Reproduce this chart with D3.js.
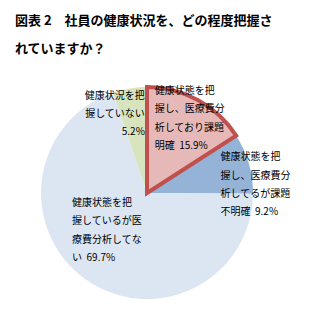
<!DOCTYPE html>
<html>
<head>
<meta charset="utf-8">
<script src="https://cdn.jsdelivr.net/npm/d3@7"></script>
<style>
  body { margin: 0; background: #fff; }
  text { font-family: "Noto Sans CJK JP", sans-serif; }
</style>
</head>
<body>
<div id="chart"></div>
<script>
// data
const titleLines = ["図表 2　社員の健康状況を、どの程度把握さ", "れていますか？"];
const categories = [
  "健康状態を把握し、医療費分析しており課題明確",
  "健康状態を把握し、医療費分析してるが課題不明確",
  "健康状態を把握しているが医療費分析してない",
  "健康状況を把握していない"
];
const values = [15.9, 9.2, 69.7, 5.2];
const labelLines = [
  ["健康状態を把", "握し、医療費分", "析しており課題", "明確  15.9%"],
  ["健康状態を把", "握し、医療費分", "析してるが課題", "不明確  9.2%"],
  ["健康状態を把", "握しているが医", "療費分析してな", "い  69.7%"],
  ["健康状況を把", "握していない", "5.2%"]
];

const colors = ["#e6b9b8", "#95b3d7", "#dce6f2", "#d7e4bd"];
// nudges of each label from the slice centroid
const labelNudge = [
  { dx: -34, dy: -26, anchor: "start" },
  { dx: -10, dy: -12, anchor: "start" },
  { dx: -24, dy: -61, anchor: "start" },
  { dx: 12, dy: -12, anchor: "end" }
];

const width = 320, height = 320;
const cx = 147, cy = 193, radius = 106;

const svg = d3.select("#chart").append("svg")
  .attr("width", width)
  .attr("height", height);

// title
svg.selectAll("text.title")
  .data(titleLines)
  .enter()
  .append("text")
  .attr("class", "title")
  .attr("x", 15)
  .attr("y", (d, i) => 25 + i * 28)
  .style("font-size", "13px")
  .style("font-weight", "bold")
  .style("white-space", "pre")
  .text(d => d);

const pie = d3.pie().sort(null).value(d => d);
const arcs = pie(values);

const arc = d3.arc().innerRadius(0).outerRadius(radius);
const labelArc = d3.arc().innerRadius(87).outerRadius(87);

const g = svg.append("g").attr("transform", `translate(${cx},${cy})`);

// other slices first, the highlighted one on top
const order = [1, 2, 3, 0];
g.selectAll("path")
  .data(order.map(i => arcs[i]))
  .enter()
  .append("path")
  .attr("d", arc)
  .attr("fill", d => colors[d.index])
  .attr("stroke", d => d.index === 0 ? "#c0504d" : "none")
  .attr("stroke-width", d => d.index === 0 ? 4 : 0)
  .attr("stroke-linejoin", "miter");

// labels
arcs.forEach((a, i) => {
  const c = labelArc.centroid(a);
  const n = labelNudge[i];
  const t = g.append("text")
    .attr("text-anchor", n.anchor)
    .style("font-size", "10px")
    .style("white-space", "pre")
    .attr("fill", "#000");
  labelLines[i].forEach((line, j) => {
    t.append("tspan")
      .attr("x", c[0] + n.dx)
      .attr("y", c[1] + n.dy + j * 18.3)
      .attr("dy", "0.35em")
      .text(line);
  });
});
</script>
</body>
</html>
